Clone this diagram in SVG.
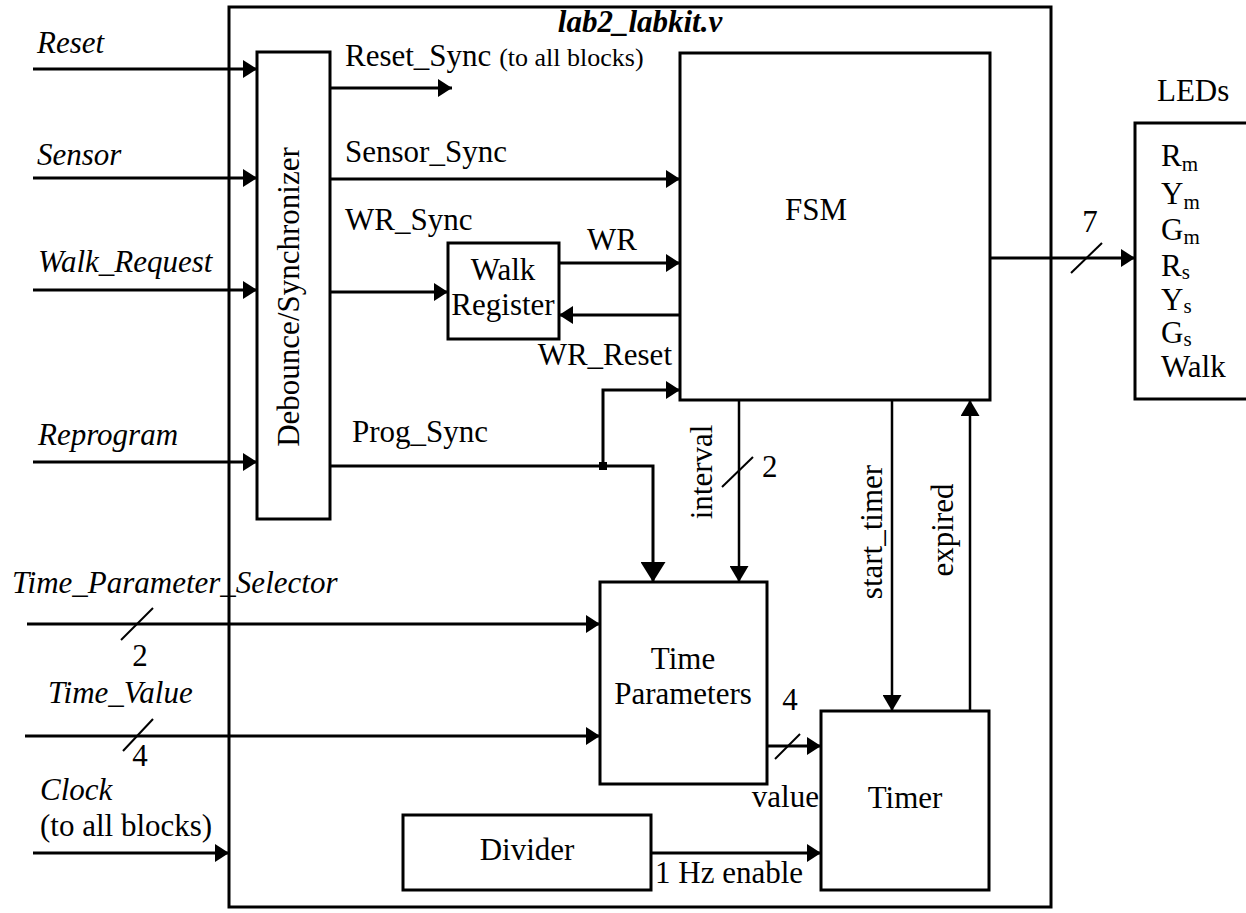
<svg xmlns="http://www.w3.org/2000/svg" width="1246" height="913" viewBox="0 0 1246 913" font-family="'Liberation Serif', 'Times New Roman', 'DejaVu Serif', serif">
<defs>
<style>
text{font-family:'Liberation Serif','Times New Roman','DejaVu Serif',serif;font-size:31px;fill:#000}
.it{font-style:italic}
.box{fill:#fff;stroke:#000;stroke-width:3}
.ln{fill:none;stroke:#000;stroke-width:3}
.ln2{fill:none;stroke:#000;stroke-width:2.5}
.sl{fill:none;stroke:#000;stroke-width:2}
.c{text-anchor:middle}
.e{text-anchor:end}
.sub{font-size:21px}
</style>
<marker id="ah" markerUnits="userSpaceOnUse" markerWidth="15" markerHeight="18" refX="14" refY="9" orient="auto"><path d="M0,0 L14,9 L0,18 z" fill="#000"/></marker>
<marker id="ahm" markerUnits="userSpaceOnUse" markerWidth="17" markerHeight="19" refX="16" refY="9.5" orient="auto"><path d="M0,0 L16,9.5 L0,19 z" fill="#000"/></marker>
<marker id="ahl" markerUnits="userSpaceOnUse" markerWidth="21" markerHeight="25" refX="20" refY="12.5" orient="auto"><path d="M0,0 L20,12.5 L0,25 z" fill="#000"/></marker>
</defs>
<rect width="1246" height="913" fill="#fff"/>

<g id="top">
<rect class="box" x="229" y="7" width="822" height="900"/>
<text x="640" y="32" class="c" font-weight="bold" font-style="italic">lab2_labkit.v</text>
</g>

<g id="debounce">
<rect class="box" x="257" y="52" width="73" height="467"/>
<text x="299" y="297" class="c" transform="rotate(-90 299 297)">Debounce/Synchronizer</text>
</g>

<g id="walkreg">
<rect class="box" x="448" y="243" width="111" height="96"/>
<text x="503" y="280" class="c">Walk</text>
<text x="503" y="315" class="c">Register</text>
</g>

<g id="fsm">
<rect class="box" x="680" y="53" width="310" height="347"/>
<text x="816" y="220" class="c">FSM</text>
</g>

<g id="timeparams">
<rect class="box" x="600" y="582" width="167" height="202"/>
<text x="683" y="669" class="c">Time</text>
<text x="683" y="704" class="c">Parameters</text>
</g>

<g id="timer">
<rect class="box" x="821" y="711" width="168" height="179"/>
<text x="905" y="808" class="c">Timer</text>
</g>

<g id="divider">
<rect class="box" x="403" y="815" width="248" height="75"/>
<text x="527" y="860" class="c">Divider</text>
</g>

<g id="leds">
<text x="1157" y="101">LEDs</text>
<rect class="box" x="1135" y="123" width="130" height="276"/>
<text x="1161" y="166">R<tspan class="sub" dy="5">m</tspan></text>
<text x="1161" y="204">Y<tspan class="sub" dy="5">m</tspan></text>
<text x="1161" y="240">G<tspan class="sub" dy="4">m</tspan></text>
<text x="1161" y="276">R<tspan class="sub" dy="3">s</tspan></text>
<text x="1161" y="310">Y<tspan class="sub" dy="3">s</tspan></text>
<text x="1161" y="343">G<tspan class="sub" dy="3">s</tspan></text>
<text x="1161" y="377">Walk</text>
</g>

<g id="connectors">
<line class="ln" x1="33" y1="69" x2="257" y2="69" marker-end="url(#ah)"/>
<text x="37" y="53" class="it">Reset</text>
<line class="ln" x1="33" y1="178" x2="257" y2="178" marker-end="url(#ah)"/>
<text x="37" y="165" class="it">Sensor</text>
<line class="ln" x1="33" y1="290" x2="257" y2="290" marker-end="url(#ah)"/>
<text x="38" y="272" class="it">Walk_Request</text>
<line class="ln" x1="33" y1="462" x2="257" y2="462" marker-end="url(#ah)"/>
<text x="38" y="445" class="it">Reprogram</text>
<line class="ln" x1="27" y1="624" x2="600" y2="624" marker-end="url(#ah)"/>
<line class="sl" x1="121" y1="640" x2="153" y2="608"/>
<text x="12" y="593" class="it">Time_Parameter_Selector</text>
<text x="140" y="666" class="c">2</text>
<line class="ln" x1="25" y1="736" x2="600" y2="736" marker-end="url(#ah)"/>
<line class="sl" x1="123" y1="751" x2="153" y2="719"/>
<text x="48" y="703" class="it">Time_Value</text>
<text x="140" y="766" class="c">4</text>
<line class="ln" x1="33" y1="853" x2="229" y2="853" marker-end="url(#ah)"/>
<text x="40" y="800" class="it">Clock</text>
<text x="40" y="836">(to all blocks)</text>

<line class="ln" x1="330" y1="88" x2="452" y2="88" marker-end="url(#ah)"/>
<text x="345" y="66">Reset_Sync <tspan font-size="26">(to all blocks)</tspan></text>
<line class="ln" x1="330" y1="179" x2="680" y2="179" marker-end="url(#ah)"/>
<text x="345" y="162">Sensor_Sync</text>
<line class="ln" x1="330" y1="292" x2="448" y2="292" marker-end="url(#ah)"/>
<text x="345" y="230">WR_Sync</text>
<line class="ln" x1="559" y1="263" x2="680" y2="263" marker-end="url(#ah)"/>
<text x="587" y="250">WR</text>
<line class="ln" x1="680" y1="315" x2="559" y2="315" marker-end="url(#ah)"/>
<text x="672" y="365" class="e">WR_Reset</text>

<polyline class="ln" points="330,466 653,466 653,582" marker-end="url(#ahl)"/>
<polyline class="ln" points="603,466 603,390 680,390" marker-end="url(#ah)"/>
<rect x="599" y="462" width="8" height="8" fill="#000"/>
<text x="352" y="442">Prog_Sync</text>

<line class="ln2" x1="739" y1="400" x2="739" y2="582" marker-end="url(#ahm)"/>
<line class="sl" x1="722" y1="487" x2="753" y2="457"/>
<text x="762" y="477">2</text>
<text x="712" y="472" class="c" transform="rotate(-90 712 472)">interval</text>
<line class="ln2" x1="892" y1="400" x2="892" y2="711" marker-end="url(#ahm)"/>
<text x="882" y="532" class="c" transform="rotate(-90 882 532)">start_timer</text>
<line class="ln2" x1="970" y1="711" x2="970" y2="400" marker-end="url(#ahm)"/>
<text x="953" y="530" class="c" transform="rotate(-90 953 530)">expired</text>

<line class="ln" x1="767" y1="746" x2="821" y2="746" marker-end="url(#ah)"/>
<line class="sl" x1="775" y1="759" x2="800" y2="734"/>
<text x="790" y="710" class="c">4</text>
<text x="819" y="807" class="e">value</text>

<line class="ln" x1="651" y1="853" x2="821" y2="853" marker-end="url(#ah)"/>
<text x="655" y="883">1 Hz enable</text>

<line class="ln" x1="990" y1="258" x2="1135" y2="258" marker-end="url(#ah)"/>
<line class="sl" x1="1071" y1="273" x2="1102" y2="243"/>
<text x="1090" y="232" class="c">7</text>
</g>
</svg>
